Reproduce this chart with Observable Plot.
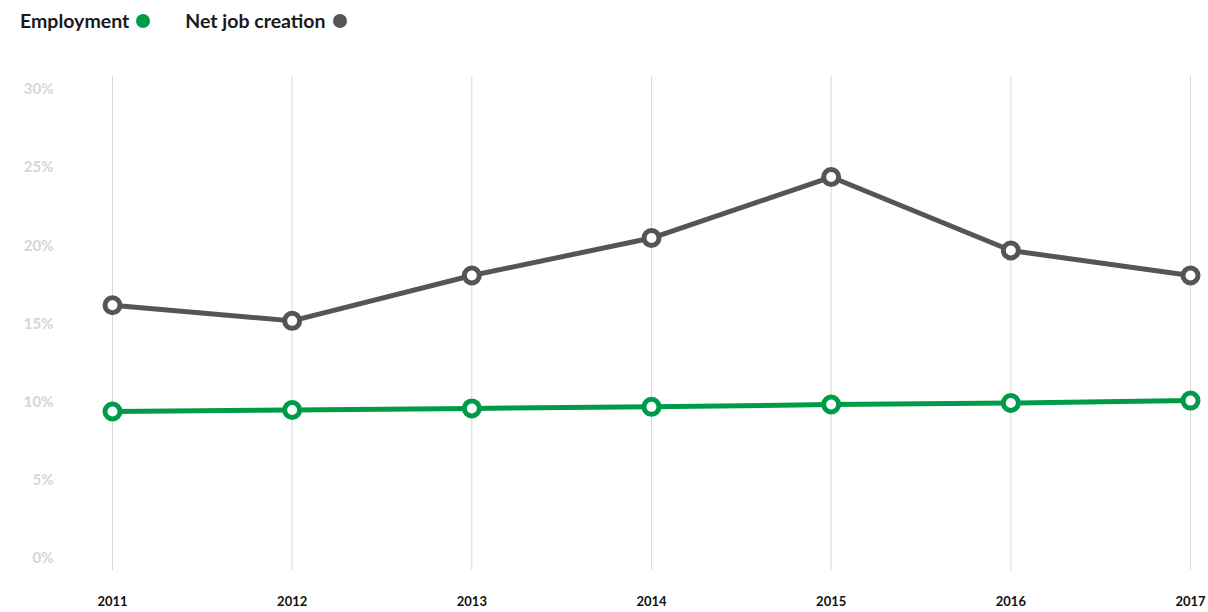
<!DOCTYPE html>
<html>
<head>
<meta charset="utf-8">
<script src="https://cdn.jsdelivr.net/npm/d3@7"></script>
<script src="https://cdn.jsdelivr.net/npm/@observablehq/plot@0.6"></script>
<style>
  html, body { margin: 0; padding: 0; background: #fff; }
  body { width: 1208px; height: 612px; overflow: hidden; font-family: Lato, "Open Sans", sans-serif; }
  #legend { height: 40px; padding-bottom: 4px; display: flex; align-items: center; padding-left: 20px; font-weight: 700; font-size: 19.5px; color: #1a1a1a; }
  #legend .item { display: flex; align-items: center; margin-right: 35px; }
  #legend .sw { display: inline-block; width: 14px; height: 14px; border-radius: 50%; margin-left: 7px; margin-top: 2px; }
  #chart svg { display: block; }
</style>
</head>
<body>
<div id="legend"></div>
<div id="chart"></div>
<script>
const years = ["2011", "2012", "2013", "2014", "2015", "2016", "2017"];
const employment = [9.4, 9.5, 9.6, 9.7, 9.85, 9.95, 10.1];
const netJobCreation = [16.2, 15.2, 18.1, 20.5, 24.4, 19.7, 18.1];
const seriesNames = ["Employment", "Net job creation"];
const seriesColors = ["#009b48", "#555555"];
const yTicks = [0, 5, 10, 15, 20, 25, 30];

const rows = [];
years.forEach((yr, i) => {
  rows.push({year: yr, value: employment[i], series: seriesNames[0]});
  rows.push({year: yr, value: netJobCreation[i], series: seriesNames[1]});
});

// legend
const legend = document.getElementById("legend");
seriesNames.forEach((name, i) => {
  const it = document.createElement("span");
  it.className = "item";
  it.innerHTML = `<span>${name}</span><span class="sw" style="background:${seriesColors[i]}"></span>`;
  legend.appendChild(it);
});

const chart = Plot.plot({
  width: 1208,
  height: 568,
  marginTop: 32,
  marginBottom: 42,
  marginLeft: 112,
  marginRight: 18,
  style: {fontFamily: "Lato, 'Open Sans', sans-serif", background: "#fff"},
  x: {type: "point", domain: years, range: [112, 1190], padding: 0, round: false},
  y: {domain: [0, 30], range: [514, 45]},
  color: {domain: seriesNames, range: seriesColors},
  marks: [
    Plot.gridX(years, {stroke: "#d9d9d9", strokeOpacity: 1, strokeWidth: 1}),
    Plot.axisY(yTicks, {tickSize: 0, tickPadding: 59, tickFormat: d => d + "%", fill: "#d6d6d6", fontSize: 15, fontWeight: 700, label: null}),
    Plot.axisX(years, {tickSize: 0, tickPadding: 26, fill: "#111", fontSize: 13, fontWeight: 700, label: null}),
    Plot.line(rows, {x: "year", y: "value", z: "series", stroke: "series", strokeWidth: 5}),
    Plot.dot(rows, {x: "year", y: "value", stroke: "series", fill: "#fff", r: 7.5, strokeWidth: 5})
  ]
});
document.getElementById("chart").appendChild(chart);
</script>
</body>
</html>
